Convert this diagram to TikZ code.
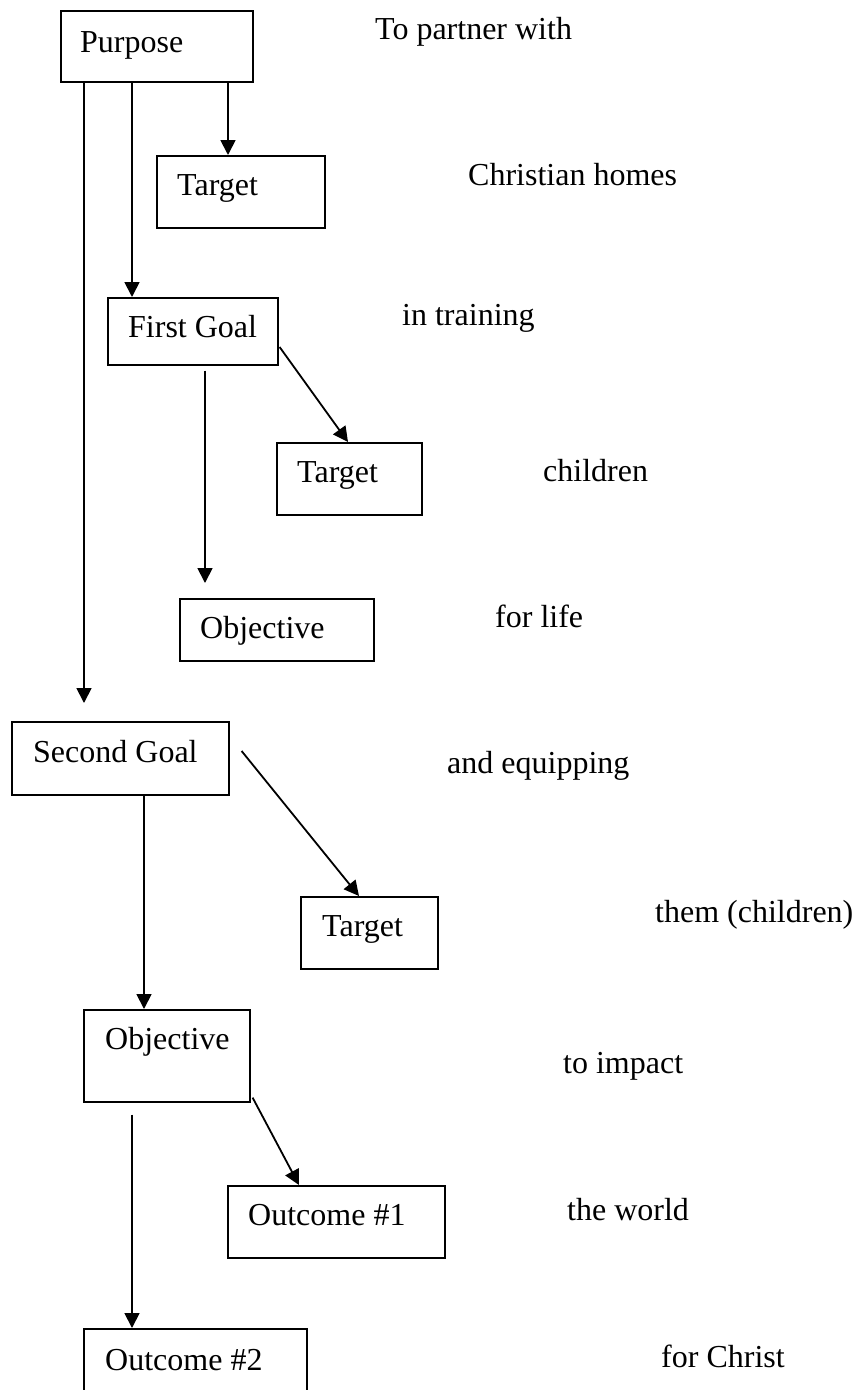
\documentclass[tikz,border=0pt]{standalone}
\usepackage{fontspec}
\setmainfont{Liberation Serif}
\usetikzlibrary{arrows.meta}
\begin{document}
\begin{tikzpicture}[x=1pt,y=-1pt,
  box/.style={draw, line width=1.6pt, anchor=north west, inner sep=0pt},
  lbl/.style={anchor=base west, inner sep=0pt, font=\fontsize{32}{38}\selectfont},
  arr/.style={line width=1.8pt, -{Triangle[length=15pt,width=15pt]}}]
\useasboundingbox (0,0) rectangle (855,1390);
\clip (0,0) rectangle (855,1390);
% boxes
\node[box, minimum width=192pt, minimum height=71pt] (purpose) at (60,10) {};
\node[box, minimum width=168pt, minimum height=72pt] (targetA) at (156,155) {};
\node[box, minimum width=170pt, minimum height=67pt] (fgoal) at (107,297) {};
\node[box, minimum width=145pt, minimum height=72pt] (targetB) at (276,442) {};
\node[box, minimum width=194pt, minimum height=62pt] (objA) at (179,598) {};
\node[box, minimum width=217pt, minimum height=73pt] (sgoal) at (11,721) {};
\node[box, minimum width=137pt, minimum height=72pt] (targetC) at (300,896) {};
\node[box, minimum width=166pt, minimum height=92pt] (objB) at (83,1009) {};
\node[box, minimum width=217pt, minimum height=72pt] (outA) at (227,1185) {};
\node[box, minimum width=223pt, minimum height=90pt] (outB) at (83,1328) {};
% box texts
\node[lbl] (tpurpose) at (80,52) {Purpose};
\node[lbl] (ttargetA) at (177,195) {Target};
\node[lbl] (tfgoal) at (128,337) {First Goal};
\node[lbl] (ttargetB) at (297,482) {Target};
\node[lbl] (tobjA) at (200,638) {Objective};
\node[lbl] (tsgoal) at (33,762) {Second Goal};
\node[lbl] (ttargetC) at (322,936) {Target};
\node[lbl] (tobjB) at (105,1049) {Objective};
\node[lbl] (toutA) at (248,1225) {Outcome \#1};
\node[lbl] (toutB) at (105,1370) {Outcome \#2};
% right-hand texts
\node[lbl] (r1) at (375,39) {To partner with};
\node[lbl] (r2) at (468,185) {Christian homes};
\node[lbl] (r3) at (402,325) {in training};
\node[lbl] (r4) at (543,481) {children};
\node[lbl] (r5) at (495,627) {for life};
\node[lbl] (r6) at (447,773) {and equipping};
\node[lbl] (r7) at (655,922) {them (children)};
\node[lbl] (r8) at (563,1073) {to impact};
\node[lbl] (r9) at (567,1220) {the world};
\node[lbl] (r10) at (661,1367) {for Christ};
% connectors
\draw[arr] ([xshift=24pt]purpose.south west) -- ([xshift=73pt,yshift=18pt]sgoal.north west);
\draw[arr] ([xshift=72pt]purpose.south west) -- ([xshift=25pt]fgoal.north west);
\draw[arr] ([xshift=168pt]purpose.south west) -- ([xshift=72pt]targetA.north west);
\draw[arr] ([xshift=1pt,yshift=-50pt]fgoal.north east) -- ([xshift=72pt]targetB.north west);
\draw[arr] ([xshift=98pt,yshift=-5pt]fgoal.south west) -- ([xshift=26pt,yshift=15pt]objA.north west);
\draw[arr] ([xshift=12pt,yshift=-30pt]sgoal.north east) -- ([xshift=59pt]targetC.north west);
\draw[arr] ([xshift=133pt]sgoal.south west) -- ([xshift=61pt]objB.north west);
\draw[arr] ([xshift=2pt,yshift=5pt]objB.south east) -- ([xshift=72pt]outA.north west);
\draw[arr] ([xshift=49pt,yshift=-12pt]objB.south west) -- ([xshift=49pt]outB.north west);
\end{tikzpicture}
\end{document}
